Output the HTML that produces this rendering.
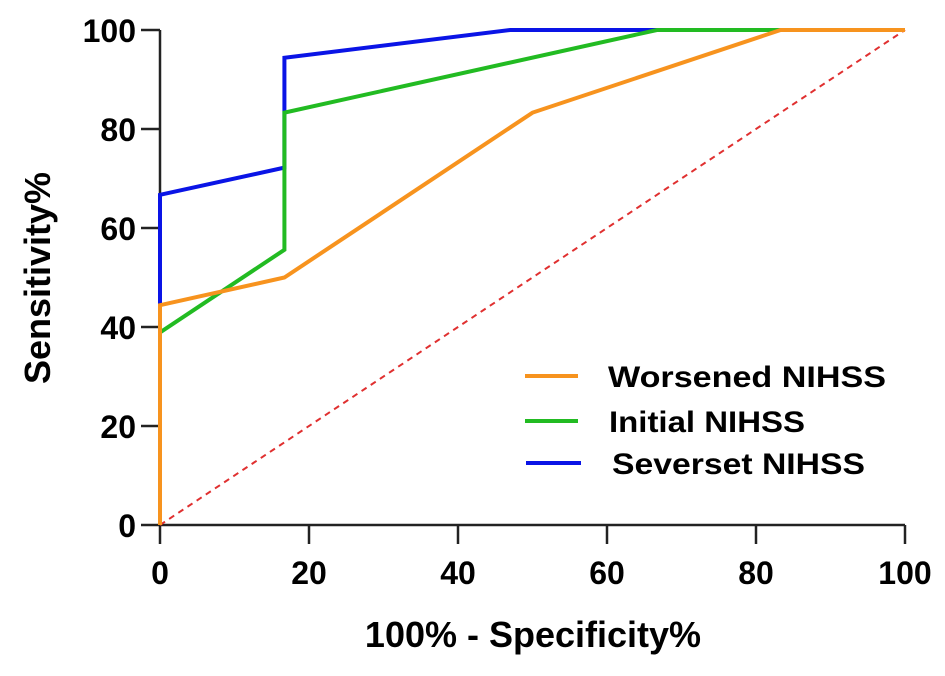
<!DOCTYPE html>
<html><head><meta charset="utf-8"><style>
body{margin:0;background:#fff}
text{font-family:"Liberation Sans",Arial,sans-serif;font-weight:bold;fill:#000}
</style></head><body>
<svg id="chart" width="945" height="671" xmlns="http://www.w3.org/2000/svg">
<g id="axes"></g><g id="series"></g>
<g>
<line x1="525" y1="376" x2="578" y2="376" stroke="#f7931e" stroke-width="4"/>
<text x="608" y="387" font-size="30" textLength="278" lengthAdjust="spacingAndGlyphs">Worsened NIHSS</text>
<line x1="525" y1="421" x2="578" y2="421" stroke="#22bb22" stroke-width="4"/>
<text x="609" y="432" font-size="30" textLength="196" lengthAdjust="spacingAndGlyphs">Initial NIHSS</text>
<line x1="526" y1="463" x2="581" y2="463" stroke="#0a14e6" stroke-width="4"/>
<text x="612" y="474" font-size="30" textLength="253" lengthAdjust="spacingAndGlyphs">Severset NIHSS</text>
</g>
<text x="533" y="647" font-size="36" text-anchor="middle">100% - Specificity%</text>
<text transform="translate(50,278) rotate(-90)" font-size="36" text-anchor="middle">Sensitivity%</text>
</svg>
<script>
const xTicks=[0,20,40,60,80,100];
const yTicks=[0,20,40,60,80,100];
const worsenedX=[0,0,16.7,50,83.3,100];
const worsenedY=[0,44.4,50,83.3,100,100];
const initialX=[0,0,16.7,16.7,66.7,100];
const initialY=[0,38.9,55.6,83.3,100,100];
const severX=[0,0,16.7,16.7,47,100];
const severY=[44.4,66.7,72.2,94.4,100,100];
const NS='http://www.w3.org/2000/svg';
const X=v=>160+v*7.45, Y=v=>525-v*4.95;
const axes=document.getElementById('axes'), ser=document.getElementById('series');
function mk(tag,attrs,parent){const e=document.createElementNS(NS,tag);for(const k in attrs)e.setAttribute(k,attrs[k]);parent.appendChild(e);return e;}
let a=mk('line',{x1:X(0),y1:Y(0),x2:X(100),y2:Y(0),stroke:'#222','stroke-width':2.5},axes);


a=mk('line',{x1:X(0),y1:Y(0),x2:X(0),y2:Y(100),stroke:'#222','stroke-width':2.5},axes);


xTicks.forEach(t=>{
 const l=mk('line',{x1:X(t),y1:Y(0),x2:X(t),y2:Y(0)+19,stroke:'#222','stroke-width':2.5},axes);
 
 
 const tx=mk('text',{x:X(t),y:584,'font-size':32,'text-anchor':'middle'},axes);tx.textContent=t;
 
 
});
yTicks.forEach(t=>{
 const l=mk('line',{x1:X(0)-19,y1:Y(t),x2:X(0),y2:Y(t),stroke:'#222','stroke-width':2.5},axes);
 
 
 const tx=mk('text',{x:136,y:Y(t)+12,'font-size':32,'text-anchor':'end'},axes);tx.textContent=t;
 
 
});
let d=mk('line',{x1:X(0),y1:Y(0),x2:X(100),y2:Y(100),stroke:'#e03030','stroke-width':2,'stroke-dasharray':'6,5'},ser);


function series(xs,ys,color,name){
 const p=mk('polyline',{points:xs.map((x,i)=>X(x)+','+Y(ys[i])).join(' '),fill:'none',stroke:color,'stroke-width':4,'stroke-linejoin':'miter'},ser);
 
 
}
series(severX,severY,'#0a14e6','severset-nihss-line');
series(initialX,initialY,'#22bb22','initial-nihss-line');
series(worsenedX,worsenedY,'#f7931e','worsened-nihss-line');
</script>
</body></html>
